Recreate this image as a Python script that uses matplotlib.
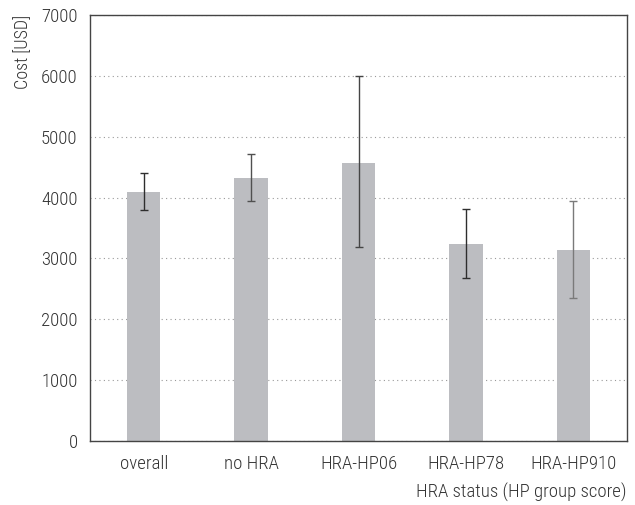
import matplotlib.pyplot as plt
from matplotlib import font_manager

# values
groups = ['overall', 'no HRA', 'HRA-HP06', 'HRA-HP78', 'HRA-HP910']
cost = [4090, 4320, 4570, 3240, 3140]
lower = [3790, 3950, 3185, 2685, 2345]
upper = [4400, 4715, 5995, 3815, 3945]
yticks = [0, 1000, 2000, 3000, 4000, 5000, 6000, 7000]

err_colors = ['#2e2e2e', '#505050', '#454545', '#2e2e2e', '#7a7a7a']

names = {f.name for f in font_manager.fontManager.ttflist}
narrow = [n for n in ['Liberation Sans Narrow', 'DejaVu Sans Condensed', 'Roboto Condensed',
                      'Open Sans Condensed'] if n in names]
plt.rcParams['font.family'] = narrow + ['DejaVu Sans']
plt.rcParams['font.stretch'] = 'condensed'
plt.rcParams['font.weight'] = 'light'
plt.rcParams['axes.labelweight'] = 'light'

fig = plt.figure(figsize=(6.35, 5.05), dpi=100)
ax = fig.add_axes([90 / 635, 1 - 441 / 505, 537 / 635, 426 / 505])

x = list(range(len(groups)))
ax.bar(x, cost, width=0.31, color='#bcbdc1', zorder=2)
for i in x:
    ax.errorbar(i, cost[i], yerr=[[cost[i] - lower[i]], [upper[i] - cost[i]]],
                fmt='none', ecolor=err_colors[i], elinewidth=1.0, capsize=3.2,
                capthick=1.0, zorder=3)

ax.set_xlim(-0.5, 4.5)
ax.set_ylim(0, 7000)
ax.set_yticks(yticks)
ax.set_xticks(x)
ax.set_xticklabels(groups)
ax.yaxis.grid(True, linestyle=(0, (1, 3)), color='#999999', linewidth=0.8, zorder=0)
ax.set_axisbelow(True)

for s in ax.spines.values():
    s.set_color('#444444')
    s.set_linewidth(1)

ax.tick_params(length=0, labelsize=13.5, labelcolor='#333333')
ax.tick_params(axis='y', pad=9)
ax.tick_params(axis='x', pad=10)

ax.set_ylabel('Cost [USD]', loc='top', fontsize=13, color='#333333', fontweight='light')
ax.yaxis.set_label_coords(-58 / 537, 1.0)
ax.set_xlabel('HRA status (HP group score)', loc='right', fontsize=13.5, color='#333333',
              fontweight='light', labelpad=7)

fig.savefig('out.png', dpi=100)
